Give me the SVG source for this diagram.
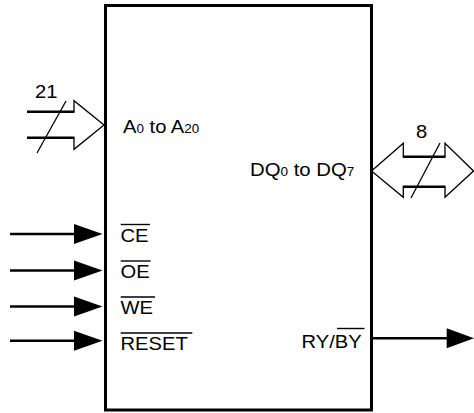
<svg xmlns="http://www.w3.org/2000/svg" width="474" height="413" viewBox="0 0 474 413">
<style>
text{font-family:"Liberation Sans",Arial,sans-serif;font-size:18px;fill:#000}
.sub{font-size:12px}
.shaft{stroke:#000;stroke-width:2.6;fill:none}
.thin{stroke:#000;stroke-width:1.3;fill:none}
.ov{stroke:#000;stroke-width:1.4}
.head{fill:#000}
</style>
<rect width="474" height="413" fill="#fff"/>
<g id="chip">
<rect x="105.5" y="5.5" width="266" height="404.5" fill="none" stroke="#000" stroke-width="3"/>
<text transform="translate(123,133) scale(1.12,1)">A<tspan class="sub">0</tspan> to A<tspan class="sub">20</tspan></text>
<text transform="translate(250,175.5) scale(1.13,1)">DQ<tspan class="sub">0</tspan> to DQ<tspan class="sub">7</tspan></text>
<text transform="translate(120.5,242) scale(1.12,1)">CE</text>
<line class="ov" x1="120.7" y1="224.5" x2="150" y2="224.5"/>
<text transform="translate(120.5,278) scale(1.12,1)">OE</text>
<line class="ov" x1="120.7" y1="261" x2="150.7" y2="261"/>
<text transform="translate(120.5,314) scale(1.12,1)">WE</text>
<line class="ov" x1="120.7" y1="297" x2="155" y2="297"/>
<text transform="translate(120.5,350) scale(1.12,1)">RESET</text>
<line class="ov" x1="120.7" y1="333" x2="192.3" y2="333"/>
<text transform="translate(301.5,347.5) scale(1.12,1)">RY/BY</text>
<line class="ov" x1="337" y1="328.5" x2="364.5" y2="328.5"/>
</g>
<g id="connectors">
<g id="addr-bus">
<line class="shaft" x1="27" y1="111.7" x2="74.5" y2="111.7"/>
<line class="shaft" x1="27" y1="137.7" x2="74.5" y2="137.7"/>
<path class="thin" d="M74,111.7 V100.7 L104,125 L74,149.3 V137.7"/>
<line class="thin" x1="66" y1="101" x2="37" y2="153"/>
<text transform="translate(35,97.7) scale(1.12,1)">21</text>
</g>
<g id="data-bus">
<line class="shaft" x1="402.8" y1="156.7" x2="445.5" y2="156.7"/>
<line class="shaft" x1="402.8" y1="186.7" x2="445.5" y2="186.7"/>
<path class="thin" d="M403.3,156.7 V143.3 L371.5,171 L403.3,197.3 V186.7"/>
<path class="thin" d="M445,156.7 V143.3 L473.5,171 L445,197.3 V186.7"/>
<line class="thin" x1="440" y1="143" x2="411" y2="198"/>
<text transform="translate(416,138.3) scale(1.12,1)">8</text>
</g>
<g id="ce-in">
<line class="shaft" x1="10" y1="234" x2="76" y2="234"/>
<polygon class="head" points="74,224 102.5,234 74,244"/>
</g>
<g id="oe-in">
<line class="shaft" x1="10" y1="270.5" x2="76" y2="270.5"/>
<polygon class="head" points="74,260.5 102.5,270.5 74,280.5"/>
</g>
<g id="we-in">
<line class="shaft" x1="10" y1="306.5" x2="76" y2="306.5"/>
<polygon class="head" points="74,296.5 102.5,306.5 74,316.5"/>
</g>
<g id="reset-in">
<line class="shaft" x1="10" y1="340.7" x2="76" y2="340.7"/>
<polygon class="head" points="74,330.7 102.5,340.7 74,350.7"/>
</g>
<g id="ryby-out">
<line class="shaft" x1="373" y1="338.3" x2="449" y2="338.3"/>
<polygon class="head" points="446.7,328.3 474,338.3 446.7,348.3"/>
</g>
</g>
</svg>
